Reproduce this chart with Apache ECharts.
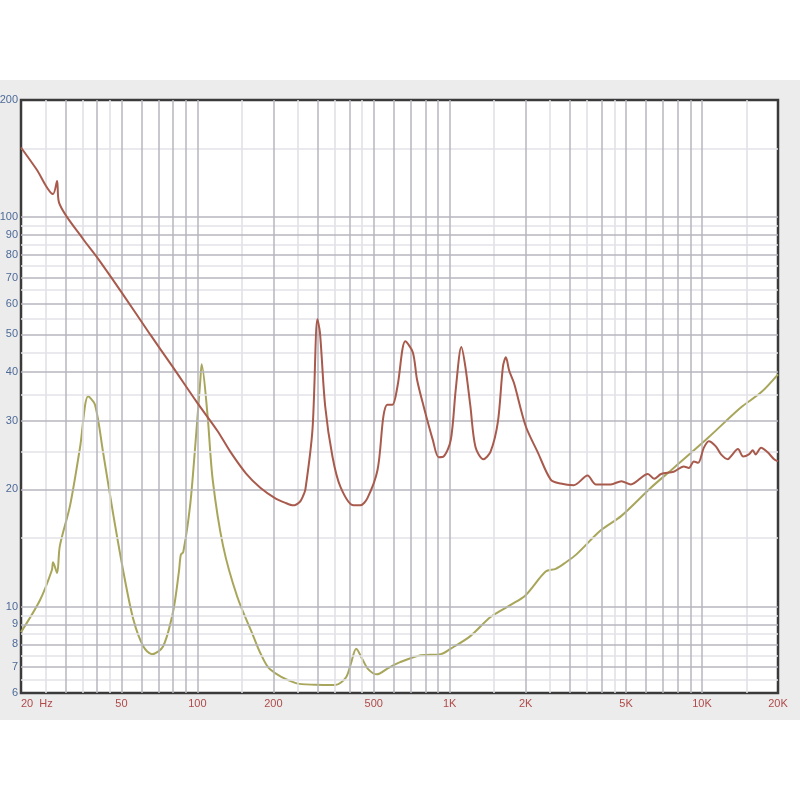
<!DOCTYPE html>
<html>
<head>
<meta charset="utf-8">
<script src="https://cdn.jsdelivr.net/npm/echarts@6/dist/echarts.min.js"></script>
<style>html,body{margin:0;padding:0;background:#fff;}#c{width:800px;height:800px;}</style>
</head>
<body>
<div id="c"></div>
<script>
// Tick labels
const xTickValues = [20, 50, 100, 200, 500, 1000, 2000, 5000, 10000, 20000];
const xTickLabels = ['20  Hz', '50', '100', '200', '500', '1K', '2K', '5K', '10K', '20K'];
const yTickValues = [200, 100, 90, 80, 70, 60, 50, 40, 30, 20, 10, 9, 8, 7, 6];
const yTickLabels = ['200', '100', '90', '80', '70', '60', '50', '40', '30', '20', '10', '9', '8', '7', '6'];

// Grid lines
const xMajorGrid = [30, 40, 50, 60, 70, 80, 90, 100, 200, 300, 400, 500, 600, 700, 800, 900, 1000,
  2000, 3000, 4000, 5000, 6000, 7000, 8000, 9000, 10000];
const xMinorGrid = [25, 35, 45, 150, 250, 350, 450, 1500, 2500, 3500, 4500, 15000];
const yMajorGrid = [7, 8, 9, 10, 20, 30, 40, 50, 60, 70, 80, 90, 100];
const yMinorGrid = [6.5, 7.5, 8.5, 9.5, 15, 25, 35, 45, 55, 65, 75, 85, 95, 150];

// Impedance curve (red)
const impFreq = [20, 23, 26.8, 27.8, 28.3, 35.3, 39.4, 50, 65, 80, 99.8, 120, 135, 155.7, 177.6, 203, 222, 240, 255, 262,
  268, 286, 299, 306, 321, 343, 369, 416, 442, 472, 518, 546, 566, 593, 621, 667, 714, 742, 787, 857, 904, 946,
  1010, 1057, 1112, 1153, 1207, 1265, 1360, 1452, 1552, 1626, 1670, 1720, 1798, 2000, 2234, 2514, 2752, 3100,
  3520, 3790, 4350, 4790, 5220, 6100, 6460, 6880, 7720, 8460, 8870, 9280, 9650, 10170, 10640, 11340, 11890,
  12660, 13000, 13880, 14560, 15330, 15900, 16300, 17140, 18200, 19300, 20000];
const impVal = [151, 133, 114.7, 123.8, 109, 87.8, 80, 64.2, 50, 41.2, 33.4, 28.3, 25.0, 22.0, 20.2, 19.0, 18.5, 18.2, 18.6, 19.2,
  20, 28.6, 54.7, 50.6, 32.7, 24.3, 20.3, 18.2, 18.2, 19, 22.5, 30.8, 33, 33, 36.8, 48, 45, 38.3, 32.8, 26.8, 24.2, 24.3,
  26.8, 36.2, 46.4, 41.4, 32.8, 25.7, 23.9, 25, 29.8, 41.4, 43.7, 40.4, 37.5, 29.1, 24.9, 21.2, 20.7, 20.5,
  21.7, 20.6, 20.6, 21.0, 20.6, 21.9, 21.3, 21.9, 22.2, 22.9, 22.7, 23.6, 23.4, 25.6, 26.6, 25.8, 24.6,
  23.9, 24.3, 25.4, 24.3, 24.6, 25.2, 24.6, 25.6, 24.9, 23.9, 23.6];

// Second curve (olive)
const secFreq = [20, 23.8, 26.5, 26.8, 27.8, 28.5, 31.3, 34.3, 36.9, 39.3, 42.3, 46.3, 50.9, 55.8, 61.1, 66.1, 73.1,
  80.1, 84.5, 86, 87.9, 93.6, 98, 102.6, 104, 109.5, 115, 126.5, 143.9, 166.6, 177.6, 194, 244, 293, 352, 387, 405,
  426, 452, 476, 514, 570, 636, 768, 920, 1010, 1207, 1452, 1744, 2000, 2400, 2630, 2890, 3170, 3970, 4790, 6270,
  7720, 10540, 14280, 17140, 20000];
const secVal = [8.6, 10.4, 12.4, 13, 12.2, 14.3, 18.2, 25.7, 34.7, 33, 24.9, 17.4, 12.3, 9.25, 7.9, 7.55, 7.9,
  9.7, 12.3, 13.6, 13.8, 18.2, 25.7, 37.7, 41.9, 31.5, 21.2, 14.3, 10.6, 8.4, 7.6, 6.9, 6.37, 6.3, 6.29, 6.56, 7.1,
  7.8, 7.3, 6.9, 6.7, 6.95, 7.2, 7.5, 7.55, 7.8, 8.4, 9.4, 10.1, 10.7, 12.3, 12.5, 13.0, 13.6, 15.7, 17.1, 20.2,
  22.7, 27.1, 32.5, 35.5, 39.5];

const impData = impFreq.map((f, i) => [f, impVal[i]]);
const secData = secFreq.map((f, i) => [f, secVal[i]]);

const chart = echarts.init(document.getElementById('c'), null, {renderer: 'canvas'});

const fontFam = '"Liberation Sans Narrow", "Liberation Sans", Arial, sans-serif';

function vLines(vals, color, width) {
  return vals.map(v => ({xAxis: v, lineStyle: {color: color, width: width, type: 'solid'}}));
}
function hLines(vals, color, width) {
  return vals.map(v => ({yAxis: v, lineStyle: {color: color, width: width, type: 'solid'}}));
}

const option = {
  animation: false,
  backgroundColor: '#ffffff',
  graphic: [{
    type: 'rect', z: -10, silent: true,
    shape: {x: 0, y: 80, width: 800, height: 640},
    style: {fill: '#ececec'}
  }],
  grid: {
    left: 21, right: 22, top: 100, bottom: 107,
    show: true, backgroundColor: '#ffffff',
    borderColor: '#3a3a3a', borderWidth: 2.5
  },
  xAxis: {
    type: 'log', logBase: 10, min: 20, max: 20000,
    axisLine: {show: false}, axisTick: {show: false},
    axisLabel: {show: false}, splitLine: {show: false}, minorSplitLine: {show: false}
  },
  yAxis: {
    type: 'log', logBase: 10, min: 6, max: 200,
    axisLine: {show: false}, axisTick: {show: false},
    axisLabel: {show: false}, splitLine: {show: false}, minorSplitLine: {show: false}
  },
  series: [
    {
      name: 'gridMinor', type: 'line', data: [], z: 1, silent: true,
      markLine: {
        silent: true, symbol: 'none', animation: false, label: {show: false},
        data: vLines(xMinorGrid, '#dedee4', 1.5).concat(hLines(yMinorGrid, '#e2e2e8', 1.5))
      }
    },
    {
      name: 'gridMajor', type: 'line', data: [], z: 2, silent: true,
      markLine: {
        silent: true, symbol: 'none', animation: false, label: {show: false},
        data: vLines(xMajorGrid, '#b6b6be', 1.5).concat(hLines(yMajorGrid, '#b6b6be', 1.5))
      }
    },
    {
      name: 'ticks', type: 'line', data: [], z: 2, silent: true,
      markLine: {
        silent: true, symbol: 'none', animation: false,
        lineStyle: {color: 'rgba(0,0,0,0)', width: 0},
        data: xTickValues.map((v, i) => ({
          xAxis: v,
          label: {
            show: true, position: 'start', distance: 5,
            formatter: xTickLabels[i],
            color: '#b04a4a', fontSize: 11, fontFamily: fontFam,
            align: i === 0 ? 'left' : 'center'
          }
        })).concat(yTickValues.map((v, i) => ({
          yAxis: v,
          label: {
            show: true, position: 'start', distance: 3,
            formatter: yTickLabels[i],
            color: '#4d6a98', fontSize: 11, fontFamily: fontFam
          }
        })))
      }
    },
    {
      name: 'Impedance', type: 'line', data: impData, z: 5,
      showSymbol: false, smooth: 0.3, clip: true,
      lineStyle: {color: '#a85a4c', width: 2}
    },
    {
      name: 'Second', type: 'line', data: secData, z: 4,
      showSymbol: false, smooth: 0.3, clip: true,
      lineStyle: {color: '#a8a65a', width: 2}
    }
  ]
};
chart.setOption(option);
</script>
</body>
</html>
